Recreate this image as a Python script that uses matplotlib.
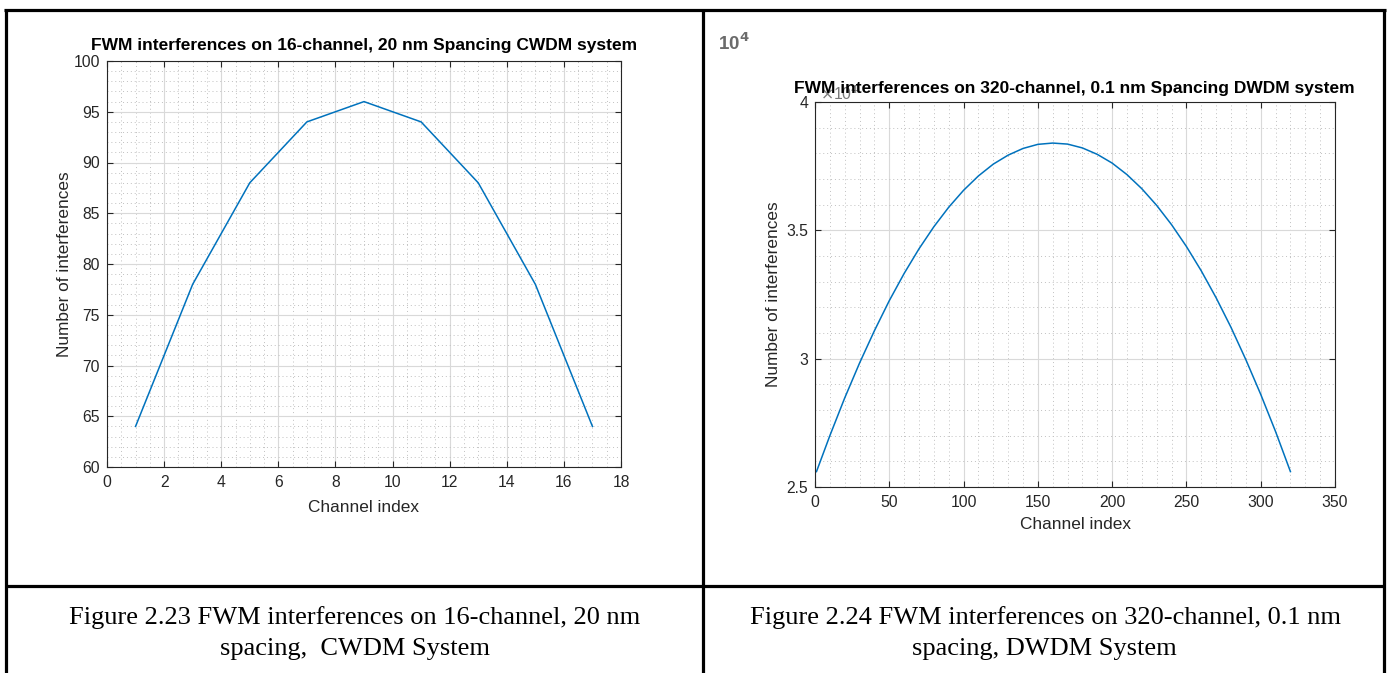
import matplotlib
matplotlib.use("Agg")
import matplotlib.pyplot as plt
from matplotlib.lines import Line2D
from matplotlib.ticker import MultipleLocator, FixedLocator

# 16-channel CWDM system: FWM interference count per channel index
cwdm_channels = [1, 3, 5, 7, 9, 11, 13, 15, 17]
cwdm_counts = [64, 78, 88, 94, 96, 94, 88, 78, 64]

# 320-channel DWDM system: FWM interference count per channel index
dwdm_channels = [1, 10, 20, 30, 40, 50, 60, 70, 80, 90, 100, 110, 120, 130, 140,
                 150, 160, 170, 180, 190, 200, 210, 220, 230, 240, 250, 260, 270,
                 280, 290, 300, 310, 320]
dwdm_counts = [25600, 27000, 28470, 29830, 31090, 32260, 33320, 34280, 35140,
               35900, 36560, 37120, 37580, 37930, 38190, 38350, 38400, 38360,
               38210, 37960, 37620, 37170, 36620, 35970, 35220, 34370, 33420,
               32370, 31220, 29960, 28610, 27160, 25600]

left_title = "FWM interferences on 16-channel, 20 nm Spancing CWDM system"
right_title = "FWM interferences on 320-channel, 0.1 nm Spancing DWDM system"
x_label = "Channel index"
y_label = "Number of interferences"
cap_left = ["Figure 2.23 FWM interferences on 16-channel, 20 nm",
            "spacing,  CWDM System"]
cap_right = ["Figure 2.24 FWM interferences on 320-channel, 0.1 nm",
             "spacing, DWDM System"]

W, H = 1391, 673
SANS = "Liberation Sans"
SERIF = "Liberation Serif"
LINE_BLUE = "#0072BD"
AX_GRAY = "#262626"
TICK_FS = 11.3
LABEL_FS = 12.4
TITLE_FS = 12.5
CAP_FS = 19

fig = plt.figure(figsize=(W / 100, H / 100), dpi=100)


def fx(px):
    return px / W


def fy(py):
    return 1 - py / H


def style_axes(ax):
    for s in ax.spines.values():
        s.set_color(AX_GRAY)
        s.set_linewidth(0.8)
    ax.tick_params(which="major", direction="in", length=4, width=0.8,
                   top=True, right=True, colors=AX_GRAY, labelsize=TICK_FS,
                   labelcolor=AX_GRAY)
    ax.tick_params(axis="x", which="major", pad=6)
    ax.tick_params(axis="y", which="major", pad=5)
    ax.tick_params(which="minor", length=0, top=True, right=True)
    ax.grid(which="major", color="#d9d9d9", linewidth=0.8, linestyle="-")
    ax.grid(which="minor", color="#c0c0c0", linewidth=0.7, linestyle=(0, (1, 3)))
    ax.set_axisbelow(True)
    for lab in ax.get_xticklabels() + ax.get_yticklabels():
        lab.set_fontfamily(SANS)


# Left chart
axl = fig.add_axes([fx(107), fy(467), fx(621 - 107), (467 - 61) / H])
axl.plot(cwdm_channels, cwdm_counts, color=LINE_BLUE, linewidth=1.1)
axl.set_xlim(0, 18)
axl.set_ylim(60, 100)
axl.xaxis.set_major_locator(MultipleLocator(2))
axl.xaxis.set_minor_locator(MultipleLocator(0.5))
axl.yaxis.set_major_locator(MultipleLocator(5))
axl.yaxis.set_minor_locator(MultipleLocator(1))
style_axes(axl)
axl.set_xlabel(x_label, fontsize=LABEL_FS, family=SANS, color=AX_GRAY, labelpad=7)
axl.set_ylabel(y_label, fontsize=LABEL_FS, family=SANS, color=AX_GRAY, labelpad=1)
axl.set_title(left_title, fontsize=TITLE_FS, family=SANS, fontweight="bold",
              pad=8)

# Right chart
axr = fig.add_axes([fx(815), fy(487), fx(1335 - 815), (487 - 102) / H])
axr.plot(dwdm_channels, dwdm_counts, color=LINE_BLUE, linewidth=1.1)
axr.set_xlim(0, 350)
axr.set_ylim(25000, 40000)
axr.xaxis.set_major_locator(MultipleLocator(50))
axr.xaxis.set_minor_locator(MultipleLocator(10))
yt = [25000, 30000, 35000, 40000]
axr.yaxis.set_major_locator(FixedLocator(yt))
axr.set_yticklabels(["2.5", "3", "3.5", "4"])
axr.yaxis.set_minor_locator(MultipleLocator(1000))
style_axes(axr)
axr.set_xlabel(x_label, fontsize=LABEL_FS, family=SANS, color=AX_GRAY, labelpad=5)
axr.set_ylabel(y_label, fontsize=LABEL_FS, family=SANS, color=AX_GRAY, labelpad=4)

# exponent label sits under the title
fig.text(fx(820), fy(94), r"$\times$10$^{4}$", fontsize=TICK_FS, family=SANS,
         color="#7a7a7a", ha="left", va="center", zorder=5)
fig.text(fx(1074), fy(88), right_title, fontsize=TITLE_FS, family=SANS,
         fontweight="bold", ha="center", va="center", zorder=10)

# stray exponent in the right cell
fig.text(fx(718), fy(43), r"10$^{\mathbf{4}}$", fontsize=13.5, family=SANS,
         fontweight="bold", color="#6b6b6b", ha="left", va="center")

# table borders
lw = 2.3
for (x0, y0, x1, y1) in [(4, 10, 1386, 10), (6, 9, 6, 673), (703, 9, 703, 673),
                         (1384, 9, 1384, 673), (5, 585.5, 1385, 585.5)]:
    fig.add_artist(Line2D([fx(x0), fx(x1)], [fy(y0), fy(y1)],
                          transform=fig.transFigure, color="black",
                          linewidth=lw, solid_capstyle="butt"))

# captions
fig.text(fx(355), fy(618), cap_left[0], fontsize=CAP_FS, family=SERIF,
         ha="center", va="center")
fig.text(fx(355), fy(649), cap_left[1], fontsize=CAP_FS, family=SERIF,
         ha="center", va="center")
fig.text(fx(1045), fy(618), cap_right[0], fontsize=CAP_FS, family=SERIF,
         ha="center", va="center")
fig.text(fx(1044), fy(649), cap_right[1], fontsize=CAP_FS, family=SERIF,
         ha="center", va="center")

fig.savefig("out.png", dpi=100, facecolor="white")
